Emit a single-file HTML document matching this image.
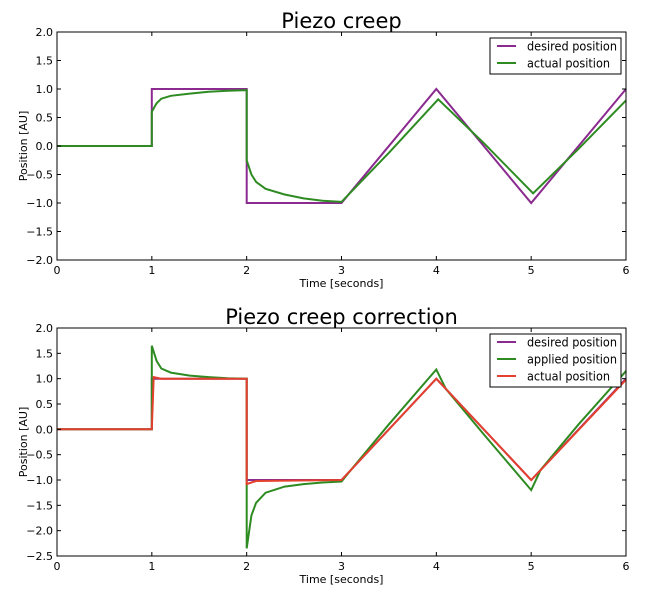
<!DOCTYPE html>
<html><head><meta charset="utf-8"><style>
body{margin:0;background:#fff;font-family:"Liberation Sans","DejaVu Sans",sans-serif}
svg text{font-family:"DejaVu Sans","Liberation Sans",sans-serif}
</style></head><body>
<svg id="s" width="657" height="597"></svg>
<script>
const xTicks=[0,1,2,3,4,5,6];
const yTicksTop=[2.0,1.5,1.0,0.5,0.0,-0.5,-1.0,-1.5,-2.0];
const yTicksBot=[2.0,1.5,1.0,0.5,0.0,-0.5,-1.0,-1.5,-2.0,-2.5];
const desiredT=[0,1,1,2,2,3,4,5,6];
const desiredV=[0,0,1,1,-1,-1,1,-1,1];
const actualTopT=[0,1,1,1.05,1.1,1.2,1.4,1.6,1.8,2,2,2.05,2.1,2.2,2.4,2.6,2.8,3,3.5,4.02,4.5,5.02,5.5,6];
const actualTopV=[0,0,0.6,0.75,0.83,0.88,0.92,0.95,0.97,0.98,-0.25,-0.5,-0.63,-0.75,-0.85,-0.92,-0.96,-0.98,-0.12,0.82,0.05,-0.83,-0.05,0.8];
const appliedT=[0,1,1,1.05,1.1,1.2,1.4,1.6,1.8,2,2,2.05,2.1,2.2,2.4,2.6,2.8,3,3.1,3.5,4,4.1,4.5,5,5.1,5.5,6];
const appliedV=[0,0,1.65,1.35,1.2,1.12,1.06,1.03,1.01,1.0,-2.35,-1.7,-1.45,-1.25,-1.13,-1.08,-1.05,-1.03,-0.8,0.1,1.18,0.8,-0.1,-1.2,-0.8,0.1,1.15];
const actualBotT=[0,1,1.02,1.1,2,2,2.1,3,4,5,6];
const actualBotV=[0,0,1.03,1.0,1.0,-1.08,-1.02,-1,1,-1,0.98];
const S=document.getElementById('s');const NS='http://www.w3.org/2000/svg';
function mk(t,a,p){const e=document.createElementNS(NS,t);for(const k in a)e.setAttribute(k,a[k]);(p||S).appendChild(e);return e;}
function panel(name,top,bot,ymax,ymin,yt,title,series,legend){
 const L=57,R=626;
 const g=mk('g',{});
 
 
 const sx=v=>L+(R-L)*v/6, sy=v=>top+(bot-top)*(ymax-v)/(ymax-ymin);
 const t=mk('text',{x:(L+R)/2,y:top-4,'text-anchor':'middle','font-size':21,fill:'#000'},g);t.textContent=title;
 
 
 series.forEach(s=>{const d=s.t.map((v,i)=>(i?'L':'M')+sx(v).toFixed(1)+' '+sy(s.v[i]).toFixed(1)).join('');
  const p=mk('path',{d:d,fill:'none',stroke:s.c,'stroke-width':2},g);
  
  });
 mk('rect',{x:L,y:top,width:R-L,height:bot-top,fill:'none',stroke:'#000','stroke-width':1},g);
 xTicks.forEach(v=>{const x=sx(v);mk('line',{x1:x,x2:x,y1:bot,y2:bot-4,stroke:'#000'},g);mk('line',{x1:x,x2:x,y1:top,y2:top+4,stroke:'#000'},g);
  const tx=mk('text',{x:x,y:bot+14,'text-anchor':'middle','font-size':11},g);tx.textContent=v;
  
  });
 yt.forEach(v=>{const y=sy(v);mk('line',{x1:L,x2:L+4,y1:y,y2:y,stroke:'#000'},g);mk('line',{x1:R,x2:R-4,y1:y,y2:y,stroke:'#000'},g);
  const ty=mk('text',{x:L-4,y:y+4,'text-anchor':'end','font-size':11},g);ty.textContent=v.toFixed(1).replace('-','−');
  
  });
 const xl=mk('text',{x:(L+R)/2,y:bot+27,'text-anchor':'middle','font-size':11},g);xl.textContent='Time [seconds]';
 
 
 const yl=mk('text',{x:0,y:0,'text-anchor':'middle','font-size':11,transform:`translate(27,${(top+bot)/2}) rotate(-90)`},g);yl.textContent='Position [AU]';
 
 
 const lg=mk('g',{},g);
 
 
 mk('rect',{x:490,y:top+6,width:131,height:1+17*legend.length+1,fill:'#fff',stroke:'#000'},lg);
 legend.forEach((s,i)=>{const y=top+14+17*i;mk('line',{x1:497,x2:516,y1:y,y2:y,stroke:s.c,'stroke-width':2},lg);
  const lt=mk('text',{x:527,y:y+4.5,'font-size':12.5,textLength:s.w,lengthAdjust:'spacingAndGlyphs'},lg);lt.textContent=s.label;
  
  });
}
const P='#8b2a8f',G='#2e8b22',Rd='#e3402d';
panel('creep-chart',32,260,2,-2,yTicksTop,'Piezo creep',
 [{t:desiredT,v:desiredV,c:P,n:'desired-position-line'},{t:actualTopT,v:actualTopV,c:G,n:'actual-position-line'}],
 [{c:P,label:'desired position',w:90},{c:G,label:'actual position',w:83}]);
panel('correction-chart',328,556,2,-2.5,yTicksBot,'Piezo creep correction',
 [{t:desiredT,v:desiredV,c:P,n:'desired-position-line'},{t:appliedT,v:appliedV,c:G,n:'applied-position-line'},{t:actualBotT,v:actualBotV,c:Rd,n:'actual-position-line'}],
 [{c:P,label:'desired position',w:90},{c:G,label:'applied position',w:90},{c:Rd,label:'actual position',w:83}]);
</script></body></html>
